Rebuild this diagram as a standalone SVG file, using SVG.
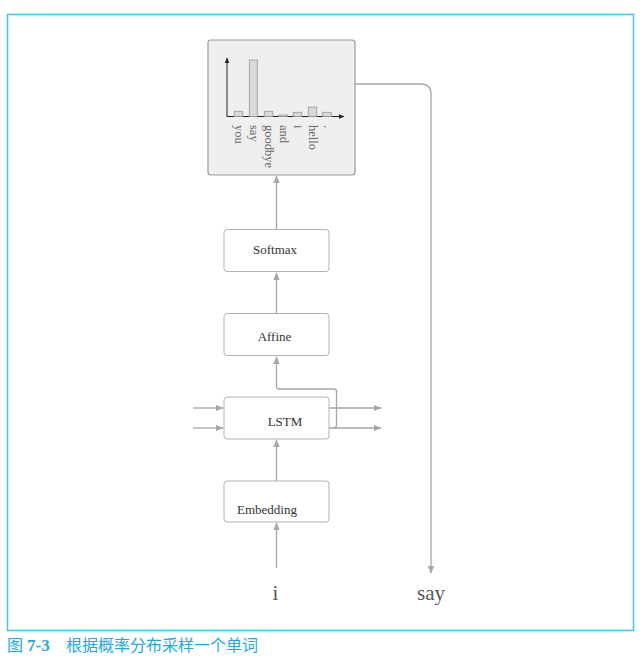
<svg xmlns="http://www.w3.org/2000/svg" width="644" height="660" viewBox="0 0 644 660">
<defs>
<marker id="ah" viewBox="0 0 10 10" refX="9" refY="5" markerWidth="8" markerHeight="8" markerUnits="userSpaceOnUse" orient="auto">
<path d="M0,1 L10,5 L0,9 z" fill="#a6a6a6"/>
</marker>
<marker id="ahk" viewBox="0 0 10 10" refX="9" refY="5" markerWidth="6" markerHeight="6" markerUnits="userSpaceOnUse" orient="auto">
<path d="M0,1 L10,5 L0,9 z" fill="#222"/>
</marker>
</defs>
<style>
.box{fill:#fff;stroke:#b3b3b3;stroke-width:1}
.lbl{font-family:"Liberation Serif","DejaVu Serif",serif;font-size:13px;fill:#333}
.con{fill:none;stroke:#a6a6a6;stroke-width:1.3}
.bar{fill:#d9d9d9;stroke:#999;stroke-width:0.8}
.word{font-family:"Liberation Serif","DejaVu Serif",serif;font-size:12.5px;fill:#666}
.big{font-family:"Liberation Serif","DejaVu Serif",serif;font-size:21px;fill:#555}
.cap{font-family:"Noto Sans CJK SC","Noto Sans",sans-serif;font-size:16px;fill:#21a9df}
.capb{font-family:"Liberation Serif","DejaVu Serif",serif;font-size:17px;font-weight:bold;fill:#21a9df}
</style>
<rect width="644" height="660" fill="#fff"/>
<rect x="7.5" y="14.5" width="626" height="616" fill="none" stroke="#3fc3ef" stroke-width="1.5"/>

<g id="distribution">
<rect x="208" y="40" width="147" height="135" rx="3" fill="#efefef" stroke="#999" stroke-width="1.2"/>
<line x1="227" y1="117" x2="227" y2="58" stroke="#222" stroke-width="1" marker-end="url(#ahk)"/>
<line x1="227" y1="116.5" x2="344" y2="116.5" stroke="#222" stroke-width="1" marker-end="url(#ahk)"/>
<rect class="bar" x="234.3" y="111.3" width="8.4" height="5.2"/>
<rect class="bar" x="249.3" y="60" width="8" height="56.5"/>
<rect class="bar" x="264.3" y="111.3" width="8.4" height="5.2"/>
<rect class="bar" x="278.7" y="115" width="8.6" height="1.5"/>
<rect class="bar" x="293.3" y="112.3" width="8.4" height="4.2"/>
<rect class="bar" x="308.3" y="107" width="8.4" height="9.5"/>
<rect class="bar" x="322.7" y="112.3" width="8.6" height="4.2"/>
<text class="word" transform="translate(235,125) rotate(90)">you</text>
<text class="word" transform="translate(250,125) rotate(90)">say</text>
<text class="word" transform="translate(265,125) rotate(90)">goodbye</text>
<text class="word" transform="translate(279.5,125) rotate(90)">and</text>
<text class="word" transform="translate(294,125) rotate(90)">i</text>
<text class="word" transform="translate(309,125) rotate(90)">hello</text>
<text class="word" transform="translate(323.5,125) rotate(90)">.</text>
</g>

<g id="softmax">
<rect class="box" x="224" y="229.5" width="105" height="42" rx="3"/>
<text class="lbl" x="275" y="253.5" text-anchor="middle">Softmax</text>
</g>
<g id="affine">
<rect class="box" x="224" y="313.5" width="105" height="42" rx="3"/>
<text class="lbl" x="274.5" y="341" text-anchor="middle">Affine</text>
</g>
<g id="lstm">
<rect class="box" x="224" y="397" width="105" height="42" rx="3"/>
<text class="lbl" x="285" y="426" text-anchor="middle">LSTM</text>
</g>
<g id="embedding">
<rect class="box" x="224" y="481" width="105" height="41" rx="3"/>
<text class="lbl" x="237" y="514">Embedding</text>
</g>
<g id="input-i">
<text class="big" x="275.5" y="600" text-anchor="middle">i</text>
</g>
<g id="output-say">
<text class="big" x="431" y="600" text-anchor="middle">say</text>
</g>

<g id="connectors">
<line class="con" x1="276.5" y1="568" x2="276.5" y2="523" marker-end="url(#ah)"/>
<line class="con" x1="276.5" y1="481" x2="276.5" y2="440" marker-end="url(#ah)"/>
<line class="con" x1="193" y1="408" x2="223" y2="408" marker-end="url(#ah)"/>
<line class="con" x1="193" y1="428" x2="223" y2="428" marker-end="url(#ah)"/>
<line class="con" x1="329" y1="408" x2="381" y2="408" marker-end="url(#ah)"/>
<line class="con" x1="329" y1="428" x2="381" y2="428" marker-end="url(#ah)"/>
<path class="con" d="M334,428 Q336.5,428 336.5,425 L336.5,391.5 Q336.5,389 334,389 L279,389 Q276.5,389 276.5,386.5 L276.5,357" marker-end="url(#ah)"/>
<line class="con" x1="276.5" y1="313.5" x2="276.5" y2="273" marker-end="url(#ah)"/>
<line class="con" x1="276.5" y1="229.5" x2="276.5" y2="176" marker-end="url(#ah)"/>
<path class="con" d="M355,84 L421,84 Q431,84 431,94 L431,573" marker-end="url(#ah)"/>
</g>

<g id="caption">
<text class="cap" x="7" y="651">图</text>
<text class="capb" x="27" y="651">7-3</text>
<text class="cap" x="66" y="651">根据概率分布采样一个单词</text>
</g>
</svg>
